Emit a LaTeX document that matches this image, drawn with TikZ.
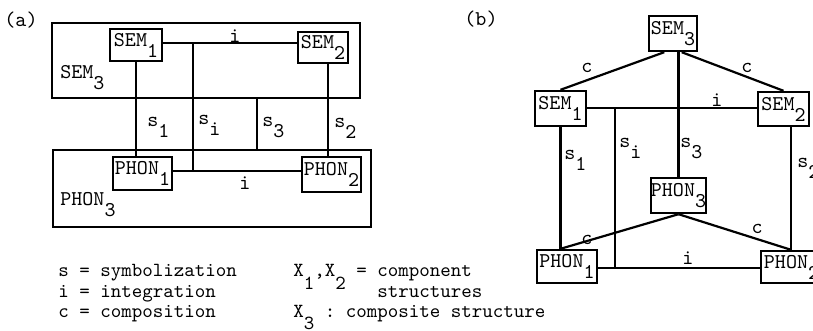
\documentclass[tikz,border=0pt]{standalone}
\usetikzlibrary{calc}
\newcommand{\lo}[1]{\raisebox{-5.5pt}{#1}}
\newcommand{\los}[1]{\raisebox{-6pt}{#1}}
\begin{document}
\frenchspacing
\begin{tikzpicture}[x=0.5pt,y=-0.5pt,
  font=\fontsize{10.5}{12}\selectfont\ttfamily,
  box/.style={draw,line width=1.2pt,inner sep=0pt,align=center},
  conn/.style={line width=1.1pt},
  iconn/.style={line width=0.9pt},
  lbl/.style={inner sep=0pt},
  leg/.style={inner sep=0pt,anchor=base west,font=\fontsize{10}{12}\selectfont\ttfamily},
  ]
\useasboundingbox (0,0) rectangle (813,331);
\clip (0,0) rectangle (813,331);

% ---------- panel (a) ----------
\node[lbl] (la) at (21,20) {(a)};
\node[box,minimum width=154pt,minimum height=37.5pt] (sem3a) at (206,60.5) {};
\node[lbl,anchor=north west] (sem3at) at (60,65) {SEM\lo{3}};
\node[box,minimum width=26pt,minimum height=16pt] (sem1a) at (136,45) {SEM\lo{1}};
\node[box,minimum width=25pt,minimum height=15.5pt] (sem2a) at (323,47.5) {SEM\lo{2}};
\node[box,minimum width=159pt,minimum height=38.5pt] (phon3a) at (212,188.5) {};
\node[lbl,anchor=north west] (phon3at) at (60,192) {PHON\lo{3}};
\node[box,minimum width=29.5pt,minimum height=16.5pt] (phon1a) at (142.5,173.5) {PHON\lo{1}};
\node[box,minimum width=29.5pt,minimum height=17.5pt] (phon2a) at (331.5,174.5) {PHON\lo{2}};

\coordinate (ya) at (0,43);
\coordinate (yb) at (0,171);
\coordinate (six) at (193,0);
\coordinate (s3x) at (257,0);
\coordinate (s2ax) at (328,0);

\draw[iconn] (sem1a.east |- ya) -- (sem2a.west |- ya);
\draw[iconn] (phon1a.east |- yb) -- (phon2a.west |- yb);
\draw[conn] (six |- ya) -- (six |- yb);
\draw[conn] (sem1a.south) -- (sem1a.south |- phon1a.north);
\draw[conn] (s3x |- sem3a.south) -- (s3x |- phon3a.north);
\draw[conn] (s2ax |- sem2a.south) -- (s2ax |- phon2a.north);

\node[lbl] (ia1) at (235,36) {i};
\node[lbl] (ia2) at (245,183) {i};
\node[lbl,anchor=base west] (sa1) at (147,127) {s\lo{1}};
\node[lbl,anchor=base west] (sai) at (198,125) {s\lo{i}};
\node[lbl,anchor=base west] (sa3) at (262,127) {s\lo{3}};
\node[lbl,anchor=base west] (sa2) at (334,128) {s\lo{2}};

% ---------- panel (b) ----------
\node[lbl] (lb) at (481,19) {(b)};
\node[box,minimum width=24pt,minimum height=17.5pt] (sem3b) at (673,33.5) {SEM\lo{3}};
\node[box,minimum width=25.5pt,minimum height=17.5pt] (sem1b) at (560.5,108.5) {SEM\lo{1}};
\node[box,minimum width=25.5pt,minimum height=17pt] (sem2b) at (783.5,109) {SEM\lo{2}};
\node[box,minimum width=26.5pt,minimum height=17.5pt] (phon3b) at (678.5,195.5) {PHON\lo{3}};
\node[box,minimum width=30pt,minimum height=16.5pt] (phon1b) at (567,266.5) {PHON\lo{1}};
\node[box,minimum width=30.5pt,minimum height=16pt] (phon2b) at (791.5,267) {PHON\lo{2}};

\coordinate (ib) at (0,108);
\coordinate (ib2) at (0,268);
\coordinate (sibx) at (615,0);
\coordinate (s2x) at (791,0);

\draw[conn] (sem3b.245) -- (sem1b.north);
\draw[conn] (sem3b.295) -- (sem2b.north);
\draw[conn] (phon3b.north |- sem3b.south) -- (phon3b.north);
\draw[iconn] (sem1b.east |- ib) -- (sem2b.west |- ib);
\draw[iconn] (phon1b.east |- ib2) -- (phon2b.west |- ib2);
\draw[iconn] (sibx |- ib) -- (sibx |- ib2);
\draw[conn] (sem1b.south) -- (sem1b.south |- phon1b.north);
\draw[iconn] (s2x |- sem2b.south) -- (s2x |- phon2b.north);
\draw[conn] (phon3b.south) -- (sem1b.south |- phon1b.north);
\draw[conn] (phon3b.south) -- (s2x |- phon2b.north);

\node[lbl] (cb1) at (587,68) {c};
\node[lbl] (cb2) at (747,68) {c};
\node[lbl] (cb3) at (587,240) {c};
\node[lbl] (cb4) at (757,229) {c};
\node[lbl] (ib1l) at (717,100) {i};
\node[lbl] (ib2l) at (688,258) {i};
\node[lbl,anchor=base west] (sb1) at (564,160) {s\lo{1}};
\node[lbl,anchor=base west] (sbi) at (619,148) {s\lo{i}};
\node[lbl,anchor=base west] (sb3) at (680,148) {s\lo{3}};
\node[lbl,anchor=base west] (sb2) at (797,168) {s\lo{2}};

% ---------- legend ----------
\node[leg] (l1) at (58,277) {s = symbolization};
\node[leg] (l2) at (58,297) {i = integration};
\node[leg] (l3) at (58,317) {c = composition};
\node[leg] (l4) at (293,277) {X\los{1},X\los{2} = component};
\node[leg] (l5) at (377,297) {structures};
\node[leg] (l6) at (293,317) {X\los{3} : composite structure};
\end{tikzpicture}
\end{document}
